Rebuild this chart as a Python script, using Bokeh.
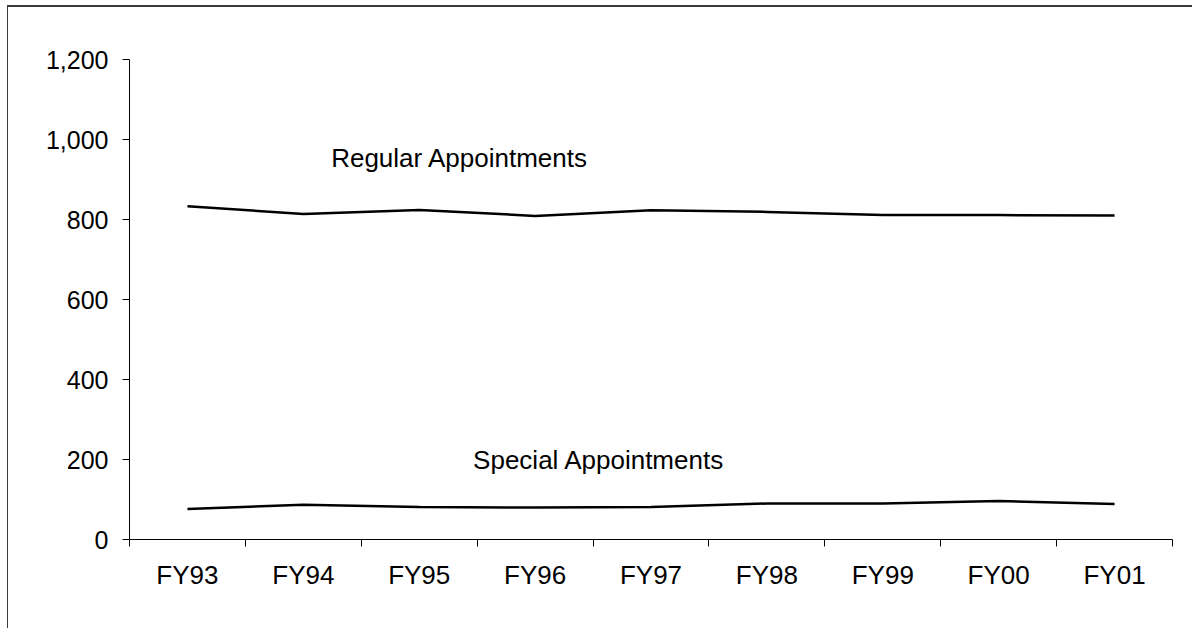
from bokeh.plotting import figure
from bokeh.models import Range1d, FixedTicker, NumeralTickFormatter, Label
from bokeh.embed import file_html
from bokeh.resources import INLINE

years = ["FY93", "FY94", "FY95", "FY96", "FY97", "FY98", "FY99", "FY00", "FY01"]
regular = [833, 814, 824, 809, 823, 819, 811, 811, 810]
special = [76, 87, 81, 80, 81, 90, 90, 96, 89]
y_ticks = [0, 200, 400, 600, 800, 1000, 1200]

FONT = "Liberation Sans"

xs = [i + 0.5 for i in range(len(years))]

p = figure(width=1185, height=623, output_backend="svg", toolbar_location=None,
           x_range=Range1d(0, len(years)), y_range=Range1d(0, 1200),
           min_border_left=121, min_border_right=21, min_border_top=52, min_border_bottom=91)
p.margin = (5, 0, 0, 7)
p.styles = {"border-top": "2px solid #3a3a3a", "border-left": "1px solid #3a3a3a",
            "border-right": "0px none", "border-bottom": "0px none",
            "outline": "none", "box-shadow": "none"}
p.outline_line_color = None
p.xgrid.visible = False
p.ygrid.visible = False
p.background_fill_color = "white"
p.border_fill_color = "white"

p.line(xs, regular, line_color="black", line_width=2.5)
p.line(xs, special, line_color="black", line_width=2.5)

xa = p.xaxis[0]
xa.ticker = FixedTicker(ticks=xs, minor_ticks=list(range(len(years) + 1)))
xa.major_label_overrides = {x: y for x, y in zip(xs, years)}
xa.major_tick_out = 0
xa.major_tick_in = 0
xa.minor_tick_out = 7
xa.minor_tick_in = 0
xa.minor_tick_line_color = "black"
xa.axis_line_color = "black"
xa.major_label_standoff = 13
xa.major_label_text_font = FONT
xa.major_label_text_font_size = "26px"
xa.major_label_text_color = "black"

ya = p.yaxis[0]
ya.ticker = FixedTicker(ticks=y_ticks, minor_ticks=[])
ya.formatter = NumeralTickFormatter(format="0,0")
ya.major_tick_out = 7
ya.major_tick_in = 0
ya.major_tick_line_color = "black"
ya.axis_line_color = "black"
ya.major_label_standoff = 14
ya.major_label_text_font = FONT
ya.major_label_text_font_size = "25px"
ya.major_label_text_color = "black"

p.add_layout(Label(x=2.85, y=953, text="Regular Appointments", text_align="center",
                   text_baseline="alphabetic", text_font=FONT, text_font_size="26px",
                   text_color="black"))
p.add_layout(Label(x=4.05, y=198, text="Special Appointments", text_align="center",
                   text_baseline="alphabetic", text_font=FONT, text_font_size="26px",
                   text_color="black"))

open("out.html", "w").write(file_html(p, INLINE))
